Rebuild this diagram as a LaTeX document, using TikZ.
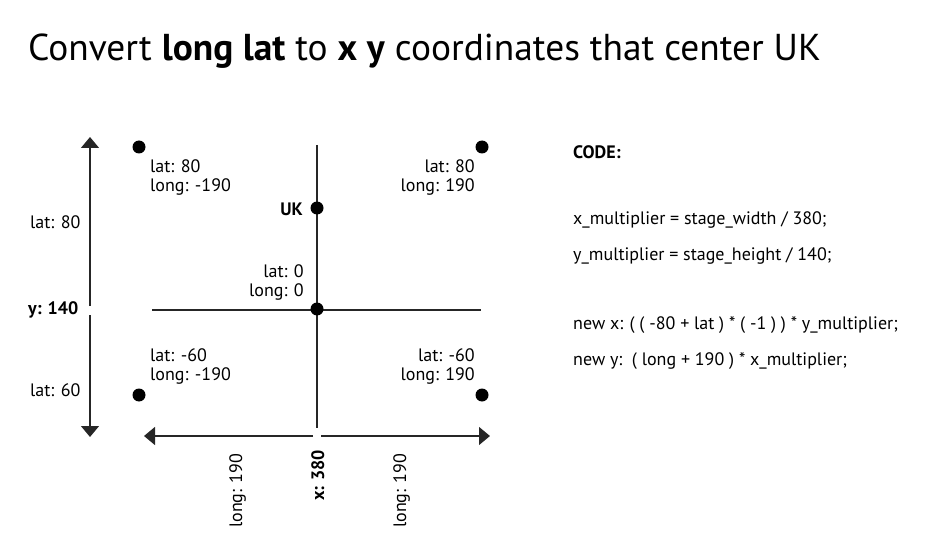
\documentclass[tikz,border=0pt]{standalone}
\usepackage{fontspec}
\setmainfont{PT Sans}
\usetikzlibrary{arrows.meta}
\begin{document}
\begin{tikzpicture}[x=1pt,y=-1pt,
  dot/.style={circle,fill=black,inner sep=0pt,minimum size=13pt},
  lbl/.style={font=\fontsize{18}{19}\selectfont,inner sep=0pt,align=left},
  lblr/.style={lbl,align=right},
  code/.style={font=\fontsize{18}{19}\selectfont,inner sep=0pt,anchor=base west},
  ax/.style={line width=1.3pt,draw=black!85},
  arr/.style={ax,-{Triangle[width=18pt,length=11pt]}}]
\useasboundingbox (0,0) rectangle (951,559);
% title
\node[anchor=base west,inner sep=0pt,font=\fontsize{37.4}{44}\selectfont] (title) at (28,61)
  {Convert \textbf{long lat} to \textbf{x y} coordinates that center UK};
% axes
\coordinate (vt) at (317,145);
\coordinate (vb) at (317,428);
\coordinate (hl) at (152,310);
\coordinate (hr) at (481,310);
\draw[ax] (vt) -- (vb);
\draw[ax] (hl) -- (hr);
% dimension arrows
\coordinate (ymid1) at (90,306);
\coordinate (ymid2) at (90,315);
\coordinate (ytop) at (90,137);
\coordinate (ybot) at (90,437);
\draw[arr] (ymid1) -- (ytop);
\draw[arr] (ymid2) -- (ybot);
\coordinate (xmid1) at (313,436);
\coordinate (xmid2) at (321,436);
\coordinate (xl) at (144,436);
\coordinate (xr) at (490,436);
\draw[arr] (xmid1) -- (xl);
\draw[arr] (xmid2) -- (xr);
% dots
\node[dot] (tl) at (139,147) {};
\node[dot] (tr) at (482,147) {};
\node[dot] (uk) at (317,208) {};
\node[dot] (o) at (317,309) {};
\node[dot] (bl) at (139,395) {};
\node[dot] (br) at (482,395) {};
% point labels
\node[lbl,anchor=base west] (ltl) at (150,192) {lat: 80\\long: -190};
\node[lblr,anchor=base east] (ltr) at (475,192) {lat: 80\\long: 190};
\node[lbl,anchor=base east,font=\fontsize{18}{19}\selectfont\bfseries] (luk) at (303,215) {UK};
\node[lblr,anchor=base east] (lo) at (304,296) {lat: 0\\long: 0};
\node[lbl,anchor=base west] (lbl1) at (150,380) {lat: -60\\long: -190};
\node[lblr,anchor=base east] (lbr) at (475,380) {lat: -60\\long: 190};
% y labels
\node[lbl,anchor=base west] (ly1) at (30,228) {lat: 80};
\node[lbl,anchor=base west,font=\fontsize{18}{19}\selectfont\bfseries] (ly2) at (28,314) {y: 140};
\node[lbl,anchor=base west] (ly3) at (30,396) {lat: 60};
% x labels
\node[lbl,anchor=base west,rotate=90] (lx1) at (242,528) {long: 190};
\node[lbl,anchor=base west,rotate=90,font=\fontsize{18}{19}\selectfont\bfseries] (lx2) at (324,501) {x: 380};
\node[lbl,anchor=base west,rotate=90] (lx3) at (406,528) {long: 190};
% code
\node[code,font=\fontsize{18}{19}\selectfont\bfseries] (c0) at (573,159) {CODE:};
\node[code] (c1) at (573,224) {x\_multiplier = stage\_width / 380;};
\node[code] (c2) at (573,260) {y\_multiplier = stage\_height / 140;};
\node[code] (c3) at (573,329) {new x: ( ( -80 + lat ) * ( -1 ) ) * y\_multiplier;};
\node[code] (c4) at (573,365) {new y:\ \ ( long + 190 ) * x\_multiplier;};
\end{tikzpicture}
\end{document}
